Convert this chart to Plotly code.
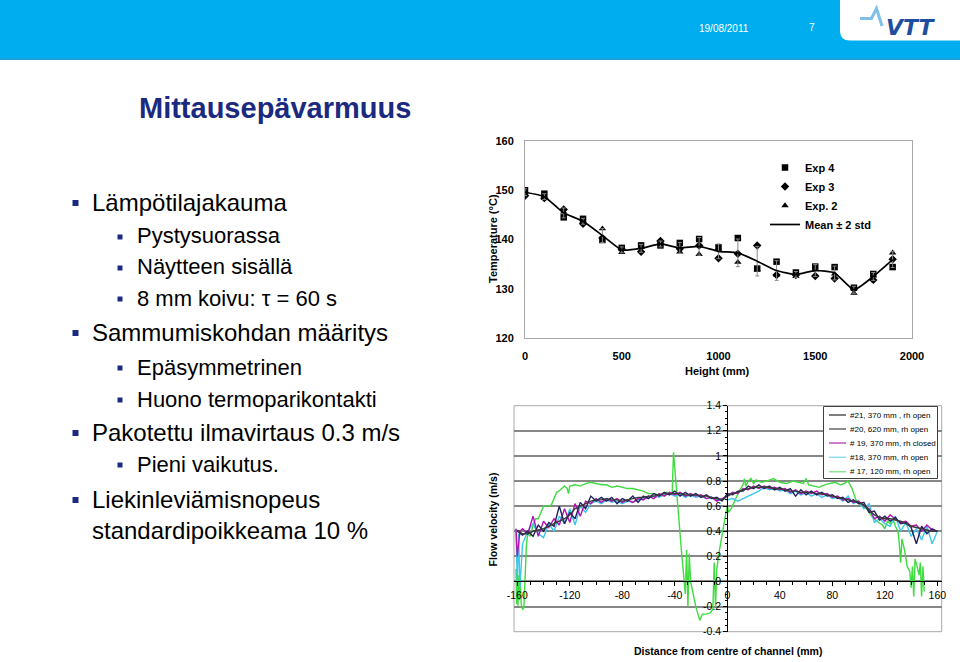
import plotly.graph_objects as go

W, H = 960, 662
def fx(p):
    return p / W
def fy(p):
    return 1 - p / H

FONT = "Liberation Sans, Arial, sans-serif"
NAVY = "#1b2a80"

# ---------------- top chart data ----------------
heights_mm = [0, 100, 200, 300, 400, 500, 600, 700, 800, 900,
              1000, 1100, 1200, 1300, 1400, 1500, 1600, 1700, 1800, 1900]
exp4 = [150.0, 149.3, 144.5, 144.2, 139.9, 138.3, 138.8, 138.8, 139.3, 140.1,
        138.4, 140.3, 134.1, 135.5, 133.3, 134.5, 134.4, 130.2, 133.0, 134.4]
exp3 = [148.9, 148.4, 146.1, 143.2, 140.3, 138.0, 137.5, 139.7, 138.1, 138.8,
        136.2, 137.1, 138.8, 132.8, 132.8, 132.6, 132.1, 130.0, 131.8, 136.0]
exp2 = [149.5, 148.4, 145.6, 143.7, 142.2, 137.4, 138.4, 139.3, 137.5, 137.0,
        138.1, 135.4, 133.9, 132.8, 132.5, 133.9, 133.0, 129.1, 132.6, 137.3]
mean_temp = [149.6, 148.7, 145.4, 143.7, 140.8, 137.9, 138.2, 139.1, 138.3, 138.6,
             137.6, 137.3, 135.6, 133.7, 132.9, 133.7, 133.2, 129.8, 132.5, 135.9]
two_std = [0.7, 0.6, 1.0, 0.6, 1.4, 0.6, 0.8, 0.6, 1.1, 1.8,
           1.5, 2.8, 3.0, 2.0, 0.6, 1.2, 1.4, 0.7, 0.8, 1.6]
top_xticks = [0, 500, 1000, 1500, 2000]
top_yticks = [120, 130, 140, 150, 160]

# ---------------- bottom chart data ----------------
x_grid = [-156, -152, -148, -144, -140, -136, -132, -128, -124, -120, -116, -112,
          -108, -104, -100, -96, -92, -88, -84, -80, -76, -72, -68, -64, -60, -56,
          -52, -48, -44, -40, -36, -32, -28, -24, -20, -16, -12, -8, -4, 0, 4, 8,
          12, 16, 20, 24, 28, 32, 36, 40, 44, 48, 52, 56, 60, 64, 68, 72, 76, 80,
          84, 88, 92, 96, 100, 104, 108, 112, 116, 120, 124, 128, 132, 136, 140,
          144, 148, 152, 156, 160]

x21 = [-160] + x_grid
v21 = [0.41, 0.38, 0.38, 0.40, 0.41, 0.42, 0.44, 0.46, 0.48, 0.50, 0.53, 0.58, 0.60,
       0.62, 0.64, 0.65, 0.65, 0.66, 0.65, 0.65, 0.64, 0.65, 0.66, 0.67, 0.67, 0.68,
       0.68, 0.69, 0.70, 0.70, 0.70, 0.70, 0.69, 0.69, 0.69, 0.68, 0.68, 0.67, 0.66,
       0.65, 0.68, 0.70, 0.71, 0.73, 0.74, 0.75, 0.75, 0.75, 0.75, 0.74, 0.74, 0.73,
       0.72, 0.72, 0.71, 0.71, 0.71, 0.70, 0.70, 0.69, 0.68, 0.67, 0.66, 0.65, 0.64,
       0.63, 0.61, 0.57, 0.53, 0.51, 0.50, 0.50, 0.49, 0.48, 0.46, 0.44, 0.43, 0.42,
       0.41, 0.40, 0.40]

x20 = [-160] + x_grid
v20 = [0.40, 0.37, 0.40, 0.36, 0.45, 0.40, 0.47, 0.44, 0.60, 0.46, 0.55, 0.50, 0.63,
       0.58, 0.68, 0.64, 0.67, 0.64, 0.67, 0.62, 0.66, 0.64, 0.68, 0.63, 0.68, 0.66,
       0.70, 0.68, 0.71, 0.69, 0.72, 0.68, 0.71, 0.68, 0.70, 0.67, 0.69, 0.66, 0.67,
       0.64, 0.70, 0.69, 0.72, 0.72, 0.76, 0.74, 0.77, 0.74, 0.76, 0.73, 0.75, 0.72,
       0.74, 0.68, 0.73, 0.69, 0.72, 0.69, 0.71, 0.68, 0.69, 0.66, 0.67, 0.63, 0.65,
       0.62, 0.63, 0.55, 0.56, 0.49, 0.52, 0.48, 0.51, 0.46, 0.47, 0.43, 0.30, 0.44,
       0.38, 0.42, 0.40]

x19 = [-161, -160, -158] + x_grid
v19 = [0.42, 0.20, 0.40, 0.42, 0.38, 0.52, 0.36, 0.48, 0.43, 0.50, 0.45, 0.58, 0.47,
       0.62, 0.52, 0.64, 0.62, 0.66, 0.63, 0.66, 0.64, 0.66, 0.63, 0.65, 0.63, 0.66,
       0.65, 0.68, 0.66, 0.70, 0.68, 0.71, 0.69, 0.71, 0.68, 0.70, 0.68, 0.69, 0.66,
       0.67, 0.64, 0.66, 0.68, 0.71, 0.70, 0.74, 0.73, 0.76, 0.74, 0.76, 0.74, 0.75,
       0.73, 0.74, 0.71, 0.73, 0.70, 0.72, 0.70, 0.72, 0.69, 0.70, 0.67, 0.68, 0.65,
       0.66, 0.63, 0.64, 0.60, 0.58, 0.50, 0.52, 0.48, 0.53, 0.50, 0.47, 0.48, 0.44,
       0.45, 0.40, 0.45, 0.41, 0.40]

x18 = [-161, -160, -159, -158] + x_grid
v18 = [0.42, 0.00, 0.38, -0.05, 0.30, 0.40, 0.46, 0.38, 0.35, 0.46, 0.40, 0.52, 0.46,
       0.58, 0.45, 0.60, 0.55, 0.62, 0.64, 0.62, 0.65, 0.63, 0.64, 0.62, 0.64, 0.63,
       0.65, 0.66, 0.67, 0.68, 0.67, 0.69, 0.70, 0.68, 0.70, 0.67, 0.69, 0.67, 0.68,
       0.66, 0.67, 0.65, 0.66, 0.65, 0.66, 0.64, 0.66, 0.68, 0.70, 0.72, 0.75, 0.73,
       0.74, 0.72, 0.73, 0.70, 0.72, 0.69, 0.71, 0.68, 0.70, 0.67, 0.69, 0.66, 0.67,
       0.64, 0.68, 0.62, 0.64, 0.58, 0.62, 0.47, 0.50, 0.46, 0.44, 0.52, 0.40, 0.47,
       0.36, 0.42, 0.33, 0.44, 0.30, 0.40]

x17 = [-161, -160.5, -160, -159.5, -159, -158.5, -158, -157, -156, -155, -153, -152,
       -150, -148, -146, -144, -142, -140, -138, -136, -134, -132, -130, -127, -124,
       -122, -121, -120, -116, -112, -108, -104, -100, -96, -92, -88, -84, -80, -76,
       -72, -68, -64, -60, -56, -52, -48, -46, -44, -42, -41, -38, -35, -32, -31, -30,
       -29, -28, -27, -24, -21, -19, -16, -13, -11, -10, -9, -8, -6, -3, -1, 0, 1, 3,
       6, 9, 12, 13, 14, 16, 18, 20, 22, 26, 30, 35, 40, 45, 50, 55, 58, 60, 62, 66,
       70, 74, 78, 82, 86, 89, 92, 95, 98, 102, 106, 110, 114, 118, 120, 122, 124,
       126, 128, 130, 131, 132, 133, 135, 137, 139, 140, 141, 142, 143, 145, 146, 147,
       148, 149, 150]
v17 = [0.10, -0.18, 0.12, -0.20, 0.05, -0.15, 0.08, -0.18, -0.22, -0.21, 0.30, 0.38,
       0.36, 0.45, 0.50, 0.50, 0.55, 0.60, 0.60, 0.60, 0.61, 0.66, 0.71, 0.73, 0.76,
       0.74, 0.70, 0.76, 0.77, 0.76, 0.78, 0.79, 0.78, 0.77, 0.77, 0.75, 0.76, 0.75,
       0.74, 0.74, 0.73, 0.72, 0.70, 0.70, 0.69, 0.70, 0.71, 0.70, 0.70, 1.03, 0.60,
       0.25, -0.10, 0.25, -0.20, 0.22, 0.00, -0.05, -0.20, -0.31, -0.26, -0.26, -0.25,
       -0.22, 0.15, -0.20, 0.10, 0.25, 0.45, 0.55, 0.60, 0.55, 0.58, 0.65, 0.72, 0.77,
       0.82, 0.76, 0.80, 0.82, 0.78, 0.81, 0.79, 0.80, 0.82, 0.79, 0.78, 0.80, 0.79,
       0.78, 0.82, 0.77, 0.76, 0.75, 0.77, 0.78, 0.79, 0.77, 0.78, 0.80, 0.74, 0.65,
       0.60, 0.58, 0.52, 0.48, 0.45, 0.42, 0.48, 0.46, 0.50, 0.44, 0.40, 0.30, 0.15,
       0.34, 0.25, 0.12, 0.08, -0.05, 0.12, -0.12, 0.18, 0.10, 0.05, 0.15, -0.12, 0.12,
       -0.08]

bottom_xticks = [-160, -120, -80, -40, 0, 40, 80, 120, 160]
bottom_xticklabels = ["-160", "-120", "-80", "-40", "0", "40", "80", "120", "160"]
bottom_yticks = [-0.4, -0.2, 0, 0.2, 0.4, 0.6, 0.8, 1.0, 1.2, 1.4]
bottom_yticklabels = ["-0.4", "-0.2", "0", "0.2", "0.4", "0.6", "0.8", "1", "1.2", "1.4"]

series_names = ["#21, 370 mm , rh open", "#20, 620 mm, rh open",
                "# 19, 370 mm, rh closed", "#18, 370 mm, rh open",
                "# 17, 120 mm, rh open"]
series_colors = ["#3a3a3a", "#22225e", "#b214b4", "#3cc8ea", "#3edc3e"]
legend_key_colors = ["#555555", "#666666", "#c050c0", "#8fdcf0", "#8fe08f"]

# ---------------- slide text ----------------
title_text = "Mittausepävarmuus"
bullets = [
    (1, "Lämpötilajakauma", 202),
    (2, "Pystysuorassa", 236),
    (2, "Näytteen sisällä", 267),
    (2, "8 mm koivu: τ = 60 s", 298),
    (1, "Sammumiskohdan määritys", 332),
    (2, "Epäsymmetrinen", 367),
    (2, "Huono termoparikontakti", 399),
    (1, "Pakotettu ilmavirtaus 0.3 m/s", 432),
    (2, "Pieni vaikutus.", 464),
    (1, "Liekinleviämisnopeus", 499),
    (0, "standardipoikkeama 10 %", 530),
]

fig = go.Figure()

# top chart traces
fig.add_trace(go.Scatter(x=heights_mm, y=exp4, mode="markers", name="Exp 4",
                         marker=dict(symbol="square", size=6.5, color="black"),
                         xaxis="x", yaxis="y", legend="legend"))
fig.add_trace(go.Scatter(x=heights_mm, y=exp3, mode="markers", name="Exp 3",
                         marker=dict(symbol="diamond", size=6.5, color="black"),
                         xaxis="x", yaxis="y", legend="legend"))
fig.add_trace(go.Scatter(x=heights_mm, y=exp2, mode="markers", name="Exp. 2",
                         marker=dict(symbol="triangle-up", size=6.5, color="black"),
                         xaxis="x", yaxis="y", legend="legend"))
fig.add_trace(go.Scatter(x=heights_mm, y=mean_temp, mode="lines", name="Mean ± 2 std",
                         line=dict(color="black", width=1.7, shape="spline", smoothing=0.5),
                         error_y=dict(type="data", array=two_std, color="#8a8a8a",
                                      thickness=1, width=2),
                         xaxis="x", yaxis="y", legend="legend"))

# bottom chart traces (drawn green first, dark last)
bottom_x = [x21, x20, x19, x18, x17]
bottom_v = [v21, v20, v19, v18, v17]
for i in [4, 3, 2, 1, 0]:
    fig.add_trace(go.Scatter(x=bottom_x[i], y=bottom_v[i], mode="lines",
                             name=series_names[i], showlegend=False,
                             line=dict(color=series_colors[i], width=1.4),
                             xaxis="x2", yaxis="y2"))

shapes = []
# header band
shapes.append(dict(type="rect", xref="paper", yref="paper", x0=0, x1=1,
                   y0=fy(58), y1=1, fillcolor="#00AEEF", line=dict(width=0)))
shapes.append(dict(type="rect", xref="paper", yref="paper", x0=0, x1=1,
                   y0=fy(60), y1=fy(58), fillcolor="#1d9fd8", line=dict(width=0)))
# white tab with rounded corner
tab = (f"M {fx(840)} {fy(-2)} L {fx(840)} {fy(31)} Q {fx(840)} {fy(40.5)} {fx(850)} {fy(40.5)} "
       f"L {fx(962)} {fy(40.5)} L {fx(962)} {fy(-2)} Z")
shapes.append(dict(type="path", xref="paper", yref="paper", path=tab,
                   fillcolor="white", line=dict(width=0)))
pulse = (f"M {fx(860)} {fy(18.5)} L {fx(871.5)} {fy(18.5)} L {fx(876.5)} {fy(8.5)} "
         f"L {fx(882)} {fy(26)}")
shapes.append(dict(type="path", xref="paper", yref="paper", path=pulse,
                   line=dict(color="#7fbfe8", width=3)))
# bullet squares
for lvl, txt, yc in bullets:
    if lvl == 1:
        shapes.append(dict(type="rect", xref="paper", yref="paper",
                           x0=fx(72.5), x1=fx(78.5), y0=fy(yc + 4), y1=fy(yc - 2),
                           fillcolor=NAVY, line=dict(width=0)))
    elif lvl == 2:
        shapes.append(dict(type="rect", xref="paper", yref="paper",
                           x0=fx(117.5), x1=fx(122.5), y0=fy(yc + 3.5), y1=fy(yc - 1.5),
                           fillcolor=NAVY, line=dict(width=0)))
# bottom chart frame
shapes.append(dict(type="rect", xref="paper", yref="paper", x0=fx(514), x1=fx(941.7),
                   y0=fy(631.7), y1=fy(405.7), line=dict(color="#a8a8a8", width=1),
                   layer="below"))
# bottom chart legend box and keys
shapes.append(dict(type="rect", xref="paper", yref="paper", x0=fx(823.5), x1=fx(937.5),
                   y0=fy(478.5), y1=fy(406.5), fillcolor="white",
                   line=dict(color="#404040", width=1)))
legend_rows_y = [415, 429, 443, 457.3, 471.7]
for i in range(5):
    shapes.append(dict(type="line", xref="paper", yref="paper", x0=fx(829), x1=fx(846),
                       y0=fy(legend_rows_y[i]), y1=fy(legend_rows_y[i]),
                       line=dict(color=legend_key_colors[i], width=1.5)))

annotations = []
annotations.append(dict(text=title_text, x=fx(137), y=fy(108), xref="paper", yref="paper",
                        xanchor="left", yanchor="middle", showarrow=False,
                        font=dict(family=FONT, size=29, color=NAVY, weight="bold")))
for lvl, txt, yc in bullets:
    xl = 135 if lvl == 2 else 89.5
    size = 22 if lvl == 2 else 24
    annotations.append(dict(text=txt, x=fx(xl), y=fy(yc), xref="paper", yref="paper",
                            xanchor="left", yanchor="middle", showarrow=False,
                            font=dict(family=FONT, size=size, color="black")))
annotations.append(dict(text="19/08/2011", x=fx(724), y=fy(28.5), xref="paper", yref="paper",
                        xanchor="center", yanchor="middle", showarrow=False,
                        font=dict(family=FONT, size=10, color="white")))
annotations.append(dict(text="7", x=fx(812), y=fy(28), xref="paper", yref="paper",
                        xanchor="center", yanchor="middle", showarrow=False,
                        font=dict(family=FONT, size=10, color="white")))
annotations.append(dict(text="VTT", x=fx(911), y=fy(27.5), xref="paper", yref="paper",
                        xanchor="center", yanchor="middle", showarrow=False,
                        font=dict(family="DejaVu Sans", size=22, color="#1d4f9e",
                                  weight="bold", style="italic")))
# bottom legend texts
for i in range(5):
    annotations.append(dict(text=series_names[i], x=fx(848), y=fy(legend_rows_y[i]),
                            xref="paper", yref="paper", xanchor="left", yanchor="middle",
                            showarrow=False,
                            font=dict(family=FONT, size=8, color="black")))
# axis titles
annotations.append(dict(text="Height (mm)", x=fx(717), y=fy(371), xref="paper", yref="paper",
                        xanchor="center", yanchor="middle", showarrow=False,
                        font=dict(family=FONT, size=11, color="black", weight="bold")))
annotations.append(dict(text="Temperature (°C)", x=fx(493), y=fy(239), xref="paper",
                        yref="paper", xanchor="center", yanchor="middle", showarrow=False,
                        textangle=-90,
                        font=dict(family=FONT, size=11, color="black", weight="bold")))
annotations.append(dict(text="Distance from centre of channel (mm)", x=fx(727.5), y=fy(651),
                        xref="paper", yref="paper", xanchor="center", yanchor="middle",
                        showarrow=False,
                        font=dict(family=FONT, size=10.5, color="black", weight="bold")))
annotations.append(dict(text="Flow velocity (m/s)", x=fx(492.5), y=fy(520), xref="paper",
                        yref="paper", xanchor="center", yanchor="middle", showarrow=False,
                        textangle=-90,
                        font=dict(family=FONT, size=10.5, color="black", weight="bold")))

bold11 = dict(family=FONT, size=11, color="black", weight="bold")
reg10 = dict(family=FONT, size=10.5, color="black")

fig.update_layout(
    template="none",
    width=W, height=H, autosize=False,
    margin=dict(l=0, r=0, t=0, b=0, pad=0),
    paper_bgcolor="white", plot_bgcolor="white",
    font=dict(family=FONT),
    showlegend=True,
    shapes=shapes,
    annotations=annotations,
    xaxis=dict(domain=[fx(525), fx(912)], range=[0, 2000], tickvals=top_xticks,
               showline=True, mirror=True, linecolor="#a8a8a8", linewidth=1,
               showgrid=False, zeroline=False, ticks="", tickfont=bold11,
               ticklabelstandoff=8, anchor="y", fixedrange=True),
    yaxis=dict(domain=[fy(338), fy(141)], range=[120, 160], tickvals=top_yticks,
               showline=True, mirror=True, linecolor="#a8a8a8", linewidth=1,
               showgrid=False, zeroline=False, ticks="", tickfont=bold11,
               ticklabelstandoff=8, anchor="x", fixedrange=True),
    xaxis2=dict(domain=[fx(514), fx(941.7)], range=[-162.5, 163.3],
                tickvals=bottom_xticks, ticktext=bottom_xticklabels,
                anchor="free", position=fy(581.3),
                showline=True, linecolor="black", linewidth=1,
                ticks="outside", ticklen=4, tickcolor="black", tickwidth=1,
                minor=dict(tickmode="linear", tick0=0, dtick=10, ticks="outside",
                           ticklen=3, tickcolor="black"),
                showgrid=False, zeroline=False, tickfont=reg10, fixedrange=True),
    yaxis2=dict(domain=[fy(631.7), fy(405.7)], range=[-0.4, 1.4],
                tickvals=bottom_yticks, ticktext=bottom_yticklabels,
                anchor="free", position=fx(727.3),
                showline=True, linecolor="black", linewidth=1,
                ticks="outside", ticklen=4, tickcolor="black", tickwidth=1,
                minor=dict(tickmode="linear", tick0=0, dtick=0.05, ticks="outside",
                           ticklen=2, tickcolor="black"),
                showgrid=True, gridcolor="#878787", gridwidth=2,
                zeroline=False, tickfont=reg10, fixedrange=True),
    legend=dict(x=fx(765), y=fy(153), xanchor="left", yanchor="top",
                bgcolor="rgba(0,0,0,0)", borderwidth=0,
                font=dict(family=FONT, size=11, color="black", weight="bold"),
                itemwidth=30, tracegroupgap=0),
)

fig.write_html(
    "out.html",
    config={"displayModeBar": False, "staticPlot": False},
    post_script="document.body.style.margin='0';document.body.style.padding='0';"
                "document.body.style.overflow='hidden';",
)
